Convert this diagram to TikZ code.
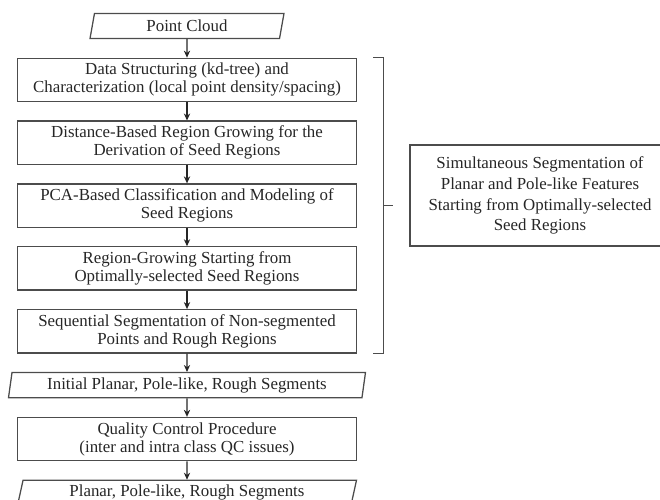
\documentclass[tikz,border=0pt]{standalone}
\usepackage{fontspec}
\setmainfont{Liberation Serif}
\usetikzlibrary{positioning,shapes.geometric,arrows.meta,calc}

\tikzset{
  stepbox/.style={draw=black!70, line width=.9pt, text=black!85,
    minimum width=8.475cm, minimum height=1.08cm, inner sep=1pt,
    align=center, font=\fontsize{12}{12.9}\selectfont},
  iobox/.style={trapezium, trapezium left angle=73, trapezium right angle=107,
    trapezium stretches body, draw=black!70, line width=.9pt, text=black!85,
    minimum height=.63cm, inner sep=1pt, font=\fontsize{12}{12.9}\selectfont},
  flow/.style={-{Stealth[length=5pt,width=4.5pt]}, line width=.8pt, draw=black!85}
}

\begin{document}
\begin{tikzpicture}[node distance=.46cm]
  \clip (0,0) rectangle (16.5,-12.5);

  % main column
  \node[iobox, minimum width=4.85cm] (cloud) at (4.675,-.65) {Point Cloud};
  \node[stepbox, below=of cloud] (kdtree) {Data Structuring (kd-tree) and\\Characterization (local point density/spacing)};
  \node[stepbox, below=of kdtree] (seeds) {Distance-Based Region Growing for the\\Derivation of Seed Regions};
  \node[stepbox, below=of seeds] (pca) {PCA-Based Classification and Modeling of\\Seed Regions};
  \node[stepbox, below=of pca] (growing) {Region-Growing Starting from\\Optimally-selected Seed Regions};
  \node[stepbox, below=of growing] (sequential) {Sequential Segmentation of Non-segmented\\Points and Rough Regions};
  \node[iobox, trapezium left angle=79, trapezium right angle=101, minimum width=8.925cm,
    below=of sequential] (initial) {Initial Planar, Pole-like, Rough Segments};
  \node[stepbox, below=of initial] (quality) {Quality Control Procedure\\(inter and intra class QC issues)};
  \node[iobox, minimum width=8.475cm, below=of quality] (final) {Planar, Pole-like, Rough Segments};

  \draw[flow] (cloud) -- (kdtree);
  \draw[flow] (kdtree) -- (seeds);
  \draw[flow] (seeds) -- (pca);
  \draw[flow] (pca) -- (growing);
  \draw[flow] (growing) -- (sequential);
  \draw[flow] (sequential) -- (initial);
  \draw[flow] (initial) -- (quality);
  \draw[flow] (quality) -- (final);

  % bracket and summary box
  \coordinate (brtop) at ([xshift=.65cm]kdtree.north east);
  \coordinate (brbot) at ([xshift=.65cm]sequential.south east);
  \draw[draw=black!70, line width=.9pt] ([xshift=-.25cm]brtop) -- (brtop) -- (brbot) -- ([xshift=-.25cm]brbot);
  \coordinate (brmid) at ($(brtop)!.5!(brbot)$);
  \draw[draw=black!70, line width=.9pt] (brmid) -- ++(.25,0);

  \node[draw=black!70, line width=.9pt, text=black!85, minimum width=6.5cm, minimum height=2.525cm,
    align=center, font=\fontsize{12}{14.7}\selectfont] (simult) at (13.5,-4.89)
    {Simultaneous Segmentation of\\Planar and Pole-like Features\\Starting from Optimally-selected\\Seed Regions};
\end{tikzpicture}
\end{document}
